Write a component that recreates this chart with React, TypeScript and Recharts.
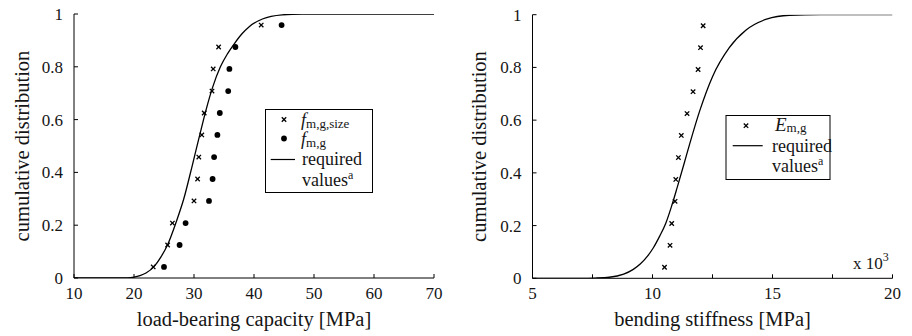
import React from 'react';
import { ComposedChart, Line, Scatter, XAxis, YAxis, Label } from 'recharts';

// ---- data ----
const cdfLevels = [0.042, 0.125, 0.208, 0.292, 0.375, 0.458, 0.542, 0.625, 0.708, 0.792, 0.875, 0.958];
const fmgSizeX = [23.2, 25.6, 26.4, 30.0, 30.6, 30.8, 31.3, 31.7, 33.0, 33.2, 34.1, 41.2];
const fmgX = [25.0, 27.6, 28.6, 32.5, 33.1, 33.35, 33.9, 34.3, 35.7, 35.9, 36.9, 44.6];
const emgX = [10.5, 10.73, 10.8, 10.94, 10.97, 11.08, 11.2, 11.44, 11.69, 11.9, 12.0, 12.11];

const leftCurveX = [10, 19, 20, 21, 22, 23.3, 24.5, 25.6, 27, 28.3, 29.7, 31, 32, 33.1, 34.4, 35.6, 36.8, 38, 39.2, 41.4, 44.7, 48, 70];
const leftCurveY = [0, 0, 0.003, 0.009, 0.019, 0.042, 0.08, 0.126, 0.21, 0.3, 0.425, 0.546, 0.636, 0.722, 0.8, 0.85, 0.89, 0.925, 0.952, 0.981, 0.997, 1, 1];

const rightCurveX = [5, 7, 7.6, 8.2, 8.8, 9.2, 9.5, 9.8, 10.03, 10.3, 10.55, 10.8, 11.03, 11.3, 11.55, 11.97, 12.5, 13.2, 13.9, 14.75, 15.7, 17, 20];
const rightCurveY = [0, 0, 0.001, 0.004, 0.016, 0.034, 0.055, 0.085, 0.115, 0.16, 0.208, 0.275, 0.345, 0.43, 0.51, 0.636, 0.765, 0.875, 0.942, 0.983, 0.998, 1, 1];

const leftTicksX = [10, 20, 30, 40, 50, 60, 70];
const leftTickLabels = [10, 20, 30, 40, 50, 60, 70];
const rightTicksX = [5, 7.5, 10, 12.5, 15, 17.5, 20];
const rightTickLabels = [5, 10, 15, 20];
const yTicks = [0, 0.2, 0.4, 0.6, 0.8, 1];

const leftXLabel = 'load-bearing capacity [MPa]';
const rightXLabel = 'bending stiffness [MPa]';
const yLabel = 'cumulative distribution';

const toPts = (xs: number[], ys: number[]) => xs.map((x, i) => ({ x, y: ys[i] }));
const fmgSizePts = toPts(fmgSizeX, cdfLevels);
const fmgPts = toPts(fmgX, cdfLevels);
const emgPts = toPts(emgX, cdfLevels);
const leftCurve = toPts(leftCurveX, leftCurveY);
const rightCurve = toPts(rightCurveX, rightCurveY);

const FONT = "'Liberation Serif', 'DejaVu Serif', serif";
const INK = '#151515';
const T = (size: number, extra: any = {}) => ({ fontFamily: FONT, fontSize: size, fill: INK, ...extra });

const makeXTick = (labeled: number[]) => (props: any) => {
  const { x, y, payload } = props;
  const v = payload.value;
  return (
    <g>
      <line x1={x} x2={x} y1={y} y2={y - 4} stroke="#000" strokeWidth={1} />
      {labeled.includes(v) && (
        <text x={x} y={y + 21} textAnchor="middle" style={T(17)}>
          {String(v)}
        </text>
      )}
    </g>
  );
};

const YTick = (props: any) => {
  const { x, y, payload } = props;
  return (
    <g>
      <line x1={x} x2={x + 4} y1={y} y2={y} stroke="#000" strokeWidth={1} />
      <text x={x - 11} y={y + 6} textAnchor="end" style={T(17)}>
        {String(payload.value)}
      </text>
    </g>
  );
};

const CrossShape = (props: any) => {
  const { cx, cy } = props;
  const s = 2.2;
  return (
    <g>
      <line x1={cx - s} y1={cy - s} x2={cx + s} y2={cy + s} stroke="#000" strokeWidth={1.3} />
      <line x1={cx - s} y1={cy + s} x2={cx + s} y2={cy - s} stroke="#000" strokeWidth={1.3} />
    </g>
  );
};

const DotShape = (props: any) => <circle cx={props.cx} cy={props.cy} r={2.9} fill="#000" />;

const makeXLabel = (text: string) => (props: any) => {
  const vb = props.viewBox;
  return (
    <text x={vb.x + vb.width / 2} y={vb.y + 48} textAnchor="middle" style={T(20.5)}>
      {text}
    </text>
  );
};

const makeYLabel = (text: string, bx: number) => (props: any) => {
  const vb = props.viewBox;
  const cy = vb.y + vb.height / 2;
  return (
    <text x={bx} y={cy} transform={`rotate(-90 ${bx} ${cy})`} textAnchor="middle" style={T(20.5)}>
      {text}
    </text>
  );
};

const LeftChart = () => (
  <ComposedChart width={456} height={336} margin={{ top: 14, right: 22, bottom: 0, left: 0 }}>
    <XAxis
      type="number"
      dataKey="x"
      domain={[10, 70]}
      ticks={leftTicksX}
      interval={0}
      height={58}
      tickSize={0}
      tickMargin={0}
      tickLine={false}
      axisLine={{ stroke: '#000', strokeWidth: 1 }}
      tick={makeXTick(leftTickLabels)}
      allowDataOverflow
    >
      <Label content={makeXLabel(leftXLabel)} />
    </XAxis>
    <YAxis
      type="number"
      dataKey="y"
      domain={[0, 1]}
      ticks={yTicks}
      interval={0}
      width={74}
      tickSize={0}
      tickMargin={0}
      tickLine={false}
      axisLine={{ stroke: '#000', strokeWidth: 1 }}
      tick={YTick}
      allowDataOverflow
    >
      <Label content={makeYLabel(yLabel, 28.5)} />
    </YAxis>
    <Line data={leftCurve} dataKey="y" type="monotone" stroke="#000" strokeWidth={1.3} dot={false} activeDot={false} isAnimationActive={false} />
    <Scatter data={fmgSizePts} shape={CrossShape} isAnimationActive={false} />
    <Scatter data={fmgPts} shape={DotShape} isAnimationActive={false} />
  </ComposedChart>
);

const RightChart = () => (
  <ComposedChart width={456} height={336} margin={{ top: 14.7, right: 19.5, bottom: 0, left: 0 }}>
    <XAxis
      type="number"
      dataKey="x"
      domain={[5, 20]}
      ticks={rightTicksX}
      interval={0}
      height={57.7}
      tickSize={0}
      tickMargin={0}
      tickLine={false}
      axisLine={{ stroke: '#000', strokeWidth: 1 }}
      tick={makeXTick(rightTickLabels)}
      allowDataOverflow
    >
      <Label content={makeXLabel(rightXLabel)} />
    </XAxis>
    <YAxis
      type="number"
      dataKey="y"
      domain={[0, 1]}
      ticks={yTicks}
      interval={0}
      width={76.5}
      tickSize={0}
      tickMargin={0}
      tickLine={false}
      axisLine={{ stroke: '#000', strokeWidth: 1 }}
      tick={YTick}
      allowDataOverflow
    >
      <Label content={makeYLabel(yLabel, 29.5)} />
    </YAxis>
    <Line data={rightCurve} dataKey="y" type="monotone" stroke="#000" strokeWidth={1.3} dot={false} activeDot={false} isAnimationActive={false} />
    <Scatter data={emgPts} shape={CrossShape} isAnimationActive={false} />
  </ComposedChart>
);

const Overlay = () => (
  <svg width={912} height={336} style={{ position: 'absolute', left: 0, top: 0, pointerEvents: 'none' }}>
    {/* left legend */}
    <rect x={265.5} y={109.5} width={107} height={83} fill="#fff" stroke="#000" strokeWidth={1} />
    <CrossShape cx={284} cy={119.5} />
    <text x={301} y={126} style={T(18)}>
      <tspan fontStyle="italic">f</tspan>
      <tspan fontSize={13} dy={1.5}>m,g,size</tspan>
    </text>
    <DotShape cx={284} cy={138.5} />
    <text x={301} y={145} style={T(18)}>
      <tspan fontStyle="italic">f</tspan>
      <tspan fontSize={13} dy={1.5}>m,g</tspan>
    </text>
    <line x1={270.7} x2={295} y1={159.5} y2={159.5} stroke="#000" strokeWidth={1.2} />
    <text x={302} y={165} style={T(18)}>required</text>
    <text x={302} y={185.5} style={T(18)}>
      values<tspan fontSize={12} dy={-7}>a</tspan>
    </text>

    {/* right legend */}
    <rect x={726} y={115.5} width={104} height={64} fill="#fff" stroke="#000" strokeWidth={1} />
    <CrossShape cx={746} cy={125.7} />
    <text x={775} y={130.5} style={T(19)}>
      <tspan fontStyle="italic">E</tspan>
      <tspan fontSize={13} dy={1}>m,g</tspan>
    </text>
    <line x1={732.7} x2={762.7} y1={145.7} y2={145.7} stroke="#000" strokeWidth={1.2} />
    <text x={772} y={151.5} style={T(18)}>required</text>
    <text x={772} y={172.2} style={T(18)}>
      values<tspan fontSize={12} dy={-7}>a</tspan>
    </text>

    {/* exponent label */}
    <text x={853} y={269} style={T(17)}>
      x 10<tspan fontSize={12} dy={-8}>3</tspan>
    </text>
  </svg>
);

export default function App() {
  return (
    <div style={{ position: 'absolute', left: 0, top: 0, width: 912, height: 336, background: '#fff' }}>
      <div style={{ position: 'absolute', left: 0, top: 0 }}>
        <LeftChart />
      </div>
      <div style={{ position: 'absolute', left: 456, top: 0 }}>
        <RightChart />
      </div>
      <Overlay />
    </div>
  );
}
